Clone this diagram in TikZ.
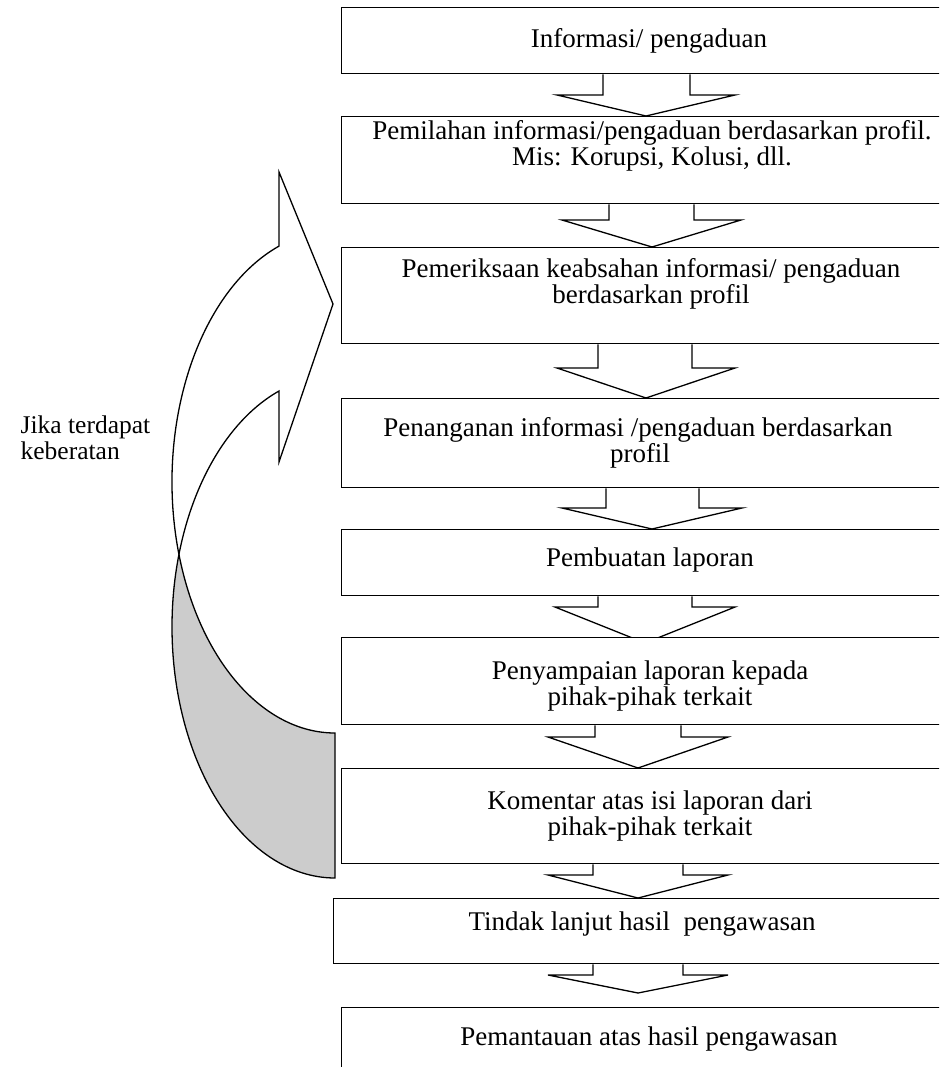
\documentclass[tikz,border=0pt]{standalone}
\usepackage{fontspec}
\setmainfont{Liberation Serif}
\usetikzlibrary{backgrounds,calc}
\definecolor{backgrey}{RGB}{204,204,204}
\newcommand\blockarr[9]{%
  \draw[barrow] (#3,0 |- #1.south) -- (#3,#7) -- (#5,#7)
    -- ($(#8,0 |- #2.north)+(0,#9)$) -- (#6,#7) -- (#4,#7) -- (#4,0 |- #1.south);}
\begin{document}
\begin{tikzpicture}[x=1pt,y=-1pt,
  line width=1.3pt, line join=miter,
  box/.style={draw=black, line width=1.3pt, fill=white, anchor=north west, inner sep=0pt, minimum width=620pt},
  txt/.style={anchor=base, inner sep=0pt, font=\fontsize{27}{28}\selectfont},
  lbl/.style={anchor=base west, inner sep=0pt, font=\fontsize{25.5}{27}\selectfont},
  barrow/.style={draw=black, line width=1.3pt, line join=miter, fill=white},
  ribbon/.style={draw=black, line width=1.3pt, line join=miter, fill=white},
]
\path[use as bounding box] (0,0) rectangle (939,1067);
\begin{scope}[on background layer]
  \fill[white] (0,0) rectangle (939,1067);
\end{scope}
\clip (0,0) rectangle (939,1067);

% boxes
\node[box, minimum height=66pt] (b1) at (341,7) {};
\node[box, minimum height=87pt] (b2) at (341,116) {};
\node[box, minimum height=96pt] (b3) at (341,247) {};
\node[box, minimum height=89pt] (b4) at (341,398) {};
\node[box, minimum height=66pt] (b5) at (341,529) {};
\node[box, minimum height=87pt] (b6) at (341,637) {};
\node[box, minimum height=95pt] (b7) at (341,768) {};
\node[box, minimum height=65pt] (b8) at (333,898) {};
\node[box, minimum height=100pt] (b9) at (341,1007) {};

% texts
\node[txt] (t1) at (649,48) {Informasi/ pengaduan};
\node[txt] (t2a) at (652,140) {Pemilahan informasi/pengaduan berdasarkan profil.};
\node[txt] (t2b) at (652,166) {Mis: Korupsi, Kolusi, dll.};
\node[txt] (t3a) at (651,277) {Pemeriksaan keabsahan informasi/ pengaduan};
\node[txt] (t3b) at (651,303) {berdasarkan profil};
\node[txt] (t4a) at (638,436) {Penanganan informasi /pengaduan berdasarkan};
\node[txt] (t4b) at (640,462) {profil};
\node[txt] (t5) at (650,566) {Pembuatan laporan};
\node[txt] (t6a) at (650,679) {Penyampaian laporan kepada};
\node[txt] (t6b) at (650,705) {pihak-pihak terkait};
\node[txt] (t7a) at (650,809) {Komentar atas isi laporan dari};
\node[txt] (t7b) at (650,835) {pihak-pihak terkait};
\node[txt] (t8) at (642,930) {Tindak lanjut hasil~ pengawasan};
\node[txt] (t9) at (649,1045) {Pemantauan atas hasil pengawasan};

% block arrows (behind the boxes)
\begin{scope}[on background layer]
\blockarr{b1}{b2}{603}{690}{557}{735}{95}{646}{0}
\blockarr{b2}{b3}{609}{694}{562}{741}{220}{652}{0}
\blockarr{b3}{b4}{598}{692}{557}{735}{368}{646}{0}
\blockarr{b4}{b5}{606}{699}{562}{742}{508}{652}{0}
\blockarr{b5}{b6}{598}{692}{555}{735}{607}{645}{6}
\blockarr{b6}{b7}{595}{681}{548}{728}{737}{638}{0}
\blockarr{b7}{b8}{593}{683}{548}{728}{875}{638}{0}
\blockarr{b8}{b9}{593}{683}{548}{728}{975}{638}{-14}
\end{scope}

% curved return arrow
\draw[ribbon, fill=backgrey] (178.94,554.4)
  arc[start angle=196.78, end angle=90, x radius=163, y radius=251.1]
  -- (335,733)
  arc[start angle=90, end angle=163.22, x radius=163, y radius=251.1] -- cycle;
\draw[ribbon] (178.94,554.4)
  arc[start angle=163.22, end angle=249.9, x radius=163, y radius=251.1]
  -- (279,172) -- (333,304) -- (279,462) -- (279,391)
  arc[start angle=249.9, end angle=196.78, x radius=163, y radius=251.1] -- cycle;

\node[lbl] (lab1) at (20,433) {Jika terdapat};
\node[lbl] (lab2) at (20,459) {keberatan};
\end{tikzpicture}
\end{document}
